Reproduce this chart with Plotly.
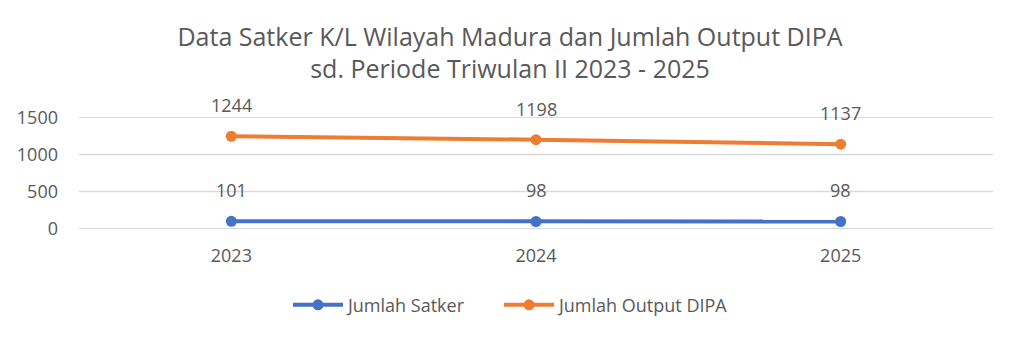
import plotly.graph_objects as go

years = ["2023", "2024", "2025"]
jumlah_satker = [101, 98, 98]
jumlah_output = [1244, 1198, 1137]
y_ticks = [0, 500, 1000, 1500]

title_lines = ["Data Satker K/L Wilayah Madura dan Jumlah Output DIPA",
               "sd. Periode Triwulan II 2023 - 2025"]

FONT = "Open Sans"
GRAY = "#595959"

PLOT_L, PLOT_W = 79, 914
legend_left_px = [288, 499]

fig = go.Figure()
series = [("Jumlah Satker", jumlah_satker, "#4472C4"),
          ("Jumlah Output DIPA", jumlah_output, "#ED7D31")]
for k, (name, vals, col) in enumerate(series):
    fig.add_trace(go.Scatter(
        x=years, y=vals, name=name, mode="lines+markers",
        line=dict(color=col, width=4), marker=dict(color=col, size=11),
        legend="legend" if k == 0 else "legend2",
    ))
    for i, yv in enumerate(vals):
        fig.add_annotation(x=i, y=yv, xref="x", yref="y", text=str(yv), showarrow=False,
                           yshift=31, font=dict(family=FONT, size=18, color=GRAY))

for t in y_ticks:
    fig.add_shape(type="line", xref="paper", yref="y", x0=0, x1=1, y0=t, y1=t,
                  line=dict(color="#D9D9D9", width=1.5), layer="below")

leg_common = dict(orientation="h", y=-0.68, yanchor="middle", xanchor="left",
                  font=dict(family=FONT, size=18, color=GRAY), itemwidth=50,
                  bgcolor="rgba(0,0,0,0)")

fig.update_layout(
    width=1020, height=338,
    margin=dict(l=PLOT_L, r=27, t=117, b=109),
    paper_bgcolor="white", plot_bgcolor="white",
    font=dict(family=FONT, color=GRAY, size=18),
    title=dict(text="<br>".join(title_lines), x=0.5, xanchor="center",
               y=0.865, yanchor="middle",
               font=dict(family=FONT, size=25, color=GRAY)),
    showlegend=True,
    legend=dict(x=(legend_left_px[0] - PLOT_L) / PLOT_W, **leg_common),
    legend2=dict(x=(legend_left_px[1] - PLOT_L) / PLOT_W, **leg_common),
    xaxis=dict(type="category", range=[-0.5, 2.5], showgrid=False, showline=False,
               ticks="", ticklabelstandoff=14,
               tickfont=dict(family=FONT, size=18, color=GRAY)),
    yaxis=dict(range=[-3, 1503], tickvals=y_ticks, showgrid=False,
               zeroline=False, showline=False, ticks="", ticklabelstandoff=20,
               tickfont=dict(family=FONT, size=18, color=GRAY)),
)

fig.write_html("out.html")
